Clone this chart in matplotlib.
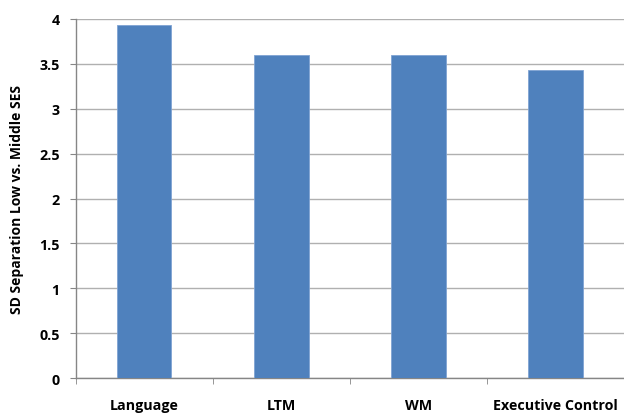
import numpy as np
import matplotlib as mpl
mpl.use('Agg')
import matplotlib.pyplot as plt
from matplotlib.ticker import FixedLocator

mpl.rcParams['font.family'] = ['Open Sans', 'DejaVu Sans']
mpl.rcParams['font.weight'] = 'bold'
mpl.rcParams['axes.labelweight'] = 'bold'

categories = ["Language", "LTM", "WM", "Executive Control"]
values = [3.93, 3.60, 3.60, 3.43]
y_ticks = [0, 0.5, 1, 1.5, 2, 2.5, 3, 3.5, 4]
y_labels = ["0", "0.5", "1", "1.5", "2", "2.5", "3", "3.5", "4"]

fig = plt.figure(figsize=(6.24, 4.14), dpi=100)
ax = fig.add_axes([0.121, 0.084, 0.879, 0.868])

x = np.arange(len(categories))
ax.bar(x, values, width=0.4, color="#4F81BD", edgecolor="#7FA3D3", linewidth=0.6, zorder=3)

ax.set_xlim(-0.5, len(categories) - 0.5)
ax.set_ylim(0, 4)
ax.set_yticks(y_ticks)
ax.set_yticklabels(y_labels, fontweight='bold')
ax.yaxis.grid(True, color="#B0B0B0", linewidth=1.0, zorder=0)

ax.set_xticks(x)
ax.set_xticklabels(categories, fontweight='bold')
ax.xaxis.set_minor_locator(FixedLocator(np.arange(len(categories) + 1) - 0.5))
ax.tick_params(axis='x', which='major', length=0, pad=14, labelsize=10.3)
ax.tick_params(axis='x', which='minor', length=4, color="#868686", direction='out')
ax.tick_params(axis='y', length=4.5, color="#868686", direction='out', labelsize=10.3, pad=7)

for s in ["top", "right"]:
    ax.spines[s].set_visible(False)
for s in ["left", "bottom"]:
    ax.spines[s].set_color("#868686")
    ax.spines[s].set_linewidth(1.0)

ax.set_ylabel("SD Separation Low vs. Middle SES", fontsize=10, fontweight='bold', labelpad=11)

plt.savefig("out.png", dpi=100)
plt.close(fig)
